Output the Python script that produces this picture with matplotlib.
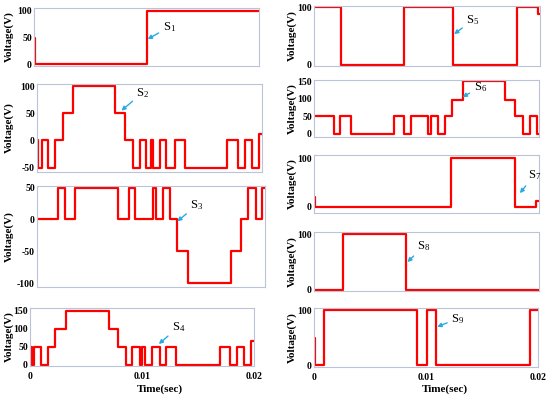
import matplotlib.pyplot as plt
import matplotlib.transforms as mtransforms

plt.rcParams['font.family'] = 'Liberation Serif'
plt.rcParams['mathtext.default'] = 'regular'
plt.rcParams['axes.unicode_minus'] = False

T_END = 0.02

# switching instants (s) and the level held from each instant on (V)
s1_t = [0, 0.00005, 0.0100]
s1_v = [50, 0, 100]

s2_t = [0, 0.0001, 0.0004, 0.00098, 0.00157, 0.00231, 0.0032, 0.00697, 0.0078,
        0.00855, 0.00914, 0.00973, 0.01009, 0.01027, 0.01092, 0.01151, 0.01226,
        0.01315, 0.01691, 0.01783, 0.01849, 0.01908, 0.01976]
s2_v = [0, -50, 0, -50, 0, 50, 100, 50, 0, -50, 0, -50, 0, -50, 0, -50, 0, -50,
        0, -50, 0, -50, 12]

s3_t = [0, 0.00184, 0.00243, 0.00337, 0.00712, 0.00805, 0.00864, 0.01019, 0.0104,
        0.01107, 0.01171, 0.0123, 0.01321, 0.01698, 0.01786, 0.01853, 0.01918, 0.01976]
s3_v = [0, 50, 0, 50, 0, 50, 0, 50, 0, 50, 0, -50, -100, -50, 0, 50, 0, 50]

s4_t = [0, 0.00015, 0.00039, 0.00095, 0.00163, 0.00223, 0.00318, 0.00704, 0.00788,
        0.00853, 0.00915, 0.00981, 0.01004, 0.01031, 0.01091, 0.01159, 0.01218,
        0.01308, 0.01694, 0.01783, 0.01848, 0.01911, 0.01976]
s4_v = [50, 0, 50, 0, 50, 100, 150, 100, 50, 0, 50, 0, 50, 0, 50, 0, 50, 0, 50,
        0, 50, 0, 65]

s5_t = [0, 0.00242, 0.00798, 0.01232, 0.01793, 0.01985]
s5_v = [100, 0, 100, 0, 100, 88]

s6_t = [0, 0.00175, 0.00234, 0.00332, 0.00708, 0.00797, 0.00865, 0.01013, 0.01037,
        0.01102, 0.01167, 0.01227, 0.01324, 0.01701, 0.0179, 0.01858, 0.01917, 0.01982]
s6_v = [50, 0, 50, 0, 50, 0, 50, 0, 50, 0, 50, 97, 150, 97, 50, 0, 50, 0]

s7_t = [0, 0.00005, 0.01221, 0.01784, 0.01976]
s7_v = [20, 0, 100, 0, 11]

s8_t = [0, 0.00258, 0.00821]
s8_v = [0, 100, 0]

s9_t = [0, 0.0001, 0.00089, 0.0092, 0.01009, 0.01092, 0.01926]
s9_v = [50, 0, 100, 0, 100, 0, 100]

# arrow tips (time, volts) for the S labels
tips = [(0.0101, 47), (0.0075, 55), (0.0123, -3), (0.0115, 57), (0.0124, 53),
        (0.0132, 104), (0.0183, 28), (0.0083, 50), (0.011, 70)]

W, H = 550, 398
fig = plt.figure(figsize=(W / 100, H / 100), dpi=100)

# panel boxes in pixels: left, top, right, bottom
boxes = [(34, 8, 259, 66), (37, 84, 262, 172), (37, 186, 265, 287), (30, 308, 254, 366),
         (314, 6, 540, 66), (314, 80, 539, 137), (314, 155, 539, 213),
         (314, 232, 539, 291), (314, 308, 538, 367)]
ylims = [(-3, 105), (-58, 104), (-106, 52.5), (-4, 157), (-2.5, 102), (-10, 153),
         (-13, 107), (-2, 104), (-3, 104)]
yticks = [[0, 50, 100], [-50, 0, 50, 100], [-100, -50, 0, 50], [0, 50, 100, 150],
          [0, 100], [0, 50, 100, 150], [0, 100], [0, 100], [0, 100]]
series = [(s1_t, s1_v), (s2_t, s2_v), (s3_t, s3_v), (s4_t, s4_v), (s5_t, s5_v),
          (s6_t, s6_v), (s7_t, s7_v), (s8_t, s8_v), (s9_t, s9_v)]
offsets = [(15, 12), (15, 18), (13, 16), (13, 17), (12, 14), (11, 10), (8, 18),
           (10, 16), (14, 8)]

for i, ((l, t, r, b), (ts, vs)) in enumerate(zip(boxes, series)):
    ax = fig.add_axes([l / W, 1 - b / H, (r - l) / W, (b - t) / H])
    ax.step(ts + [T_END], vs + [vs[-1]], where='post', color='#ff0000', lw=1.6)
    ax.set_xlim(0, T_END)
    ax.set_ylim(*ylims[i])
    ax.set_yticks(yticks[i])
    ax.tick_params(length=0, pad=1.5, labelsize=7)
    for lab in ax.get_yticklabels():
        lab.set_fontweight('bold')
    for sp in ax.spines.values():
        sp.set_color('#b9c3da')
        sp.set_linewidth(0.8)
    label_x = 14 if l < 200 else 297
    ax.set_ylabel('Voltage(V)', fontsize=8, fontweight='bold')
    ax.yaxis.set_label_coords(label_x / W, 0.5,
                              transform=mtransforms.blended_transform_factory(fig.transFigure, ax.transAxes))
    if i in (3, 8):
        ax.set_xticks([0, 0.01, 0.02])
        ax.set_xticklabels(['0', '0.01', '0.02'], fontweight='bold')
        ax.tick_params(axis='x', pad=4)
    else:
        ax.set_xticks([])
    ax.annotate('S$_{%d}$' % (i + 1), xy=tips[i], xytext=offsets[i],
                textcoords='offset pixels', ha='left', va='center', fontsize=9,
                arrowprops=dict(arrowstyle='-|>', color='#29abe2', lw=1,
                                shrinkA=1, shrinkB=0, mutation_scale=6))

fig.text(160 / W, 1 - 389 / H, 'Time(sec)', ha='center', va='center',
         fontsize=8, fontweight='bold')
fig.text(445 / W, 1 - 389 / H, 'Time(sec)', ha='center', va='center',
         fontsize=8, fontweight='bold')

fig.savefig('out.png', dpi=100)
